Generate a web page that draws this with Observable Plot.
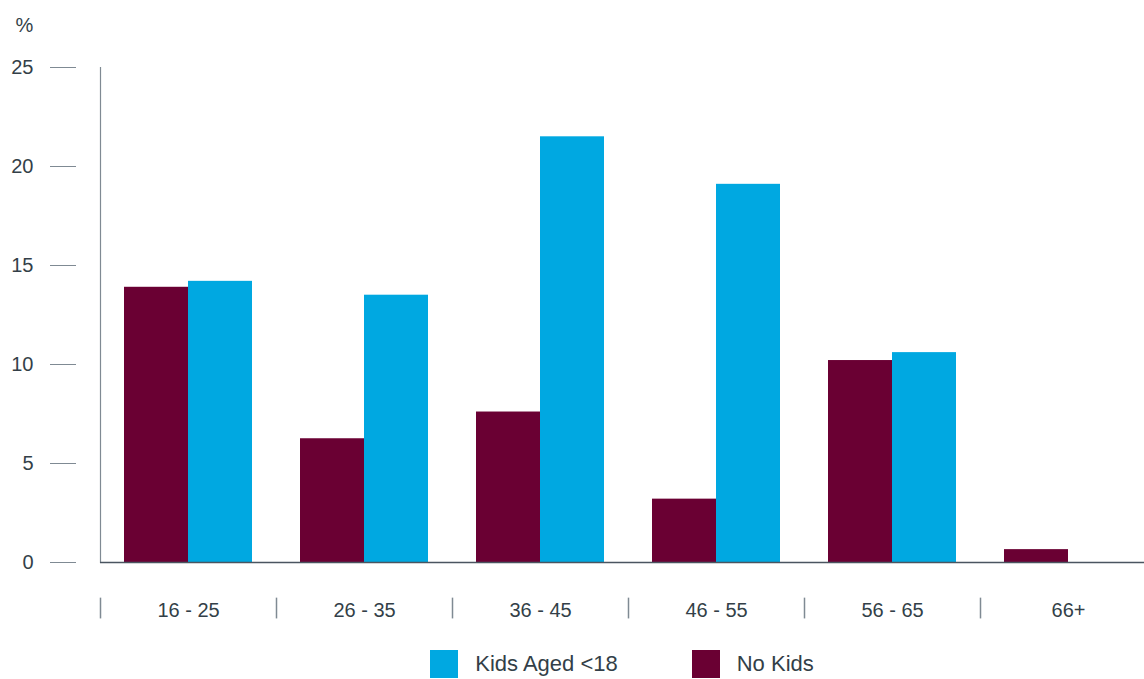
<!DOCTYPE html>
<html>
<head>
<meta charset="utf-8">
<script src="https://cdn.jsdelivr.net/npm/d3@7"></script>
<script src="https://cdn.jsdelivr.net/npm/@observablehq/plot@0.6"></script>
<style>
  html, body { margin: 0; padding: 0; background: #fff; overflow: hidden; }
  body { width: 1144px; height: 679px; font-family: "Liberation Sans", Arial, sans-serif; color: #333f48; }
  #legend { display: flex; justify-content: center; align-items: center; padding-left: 100px; margin-top: 5px; font-size: 22px; line-height: 26px; }
  .item { display: flex; align-items: center; }
  .sw { width: 28px; height: 28px; margin-right: 17px; }
  .gap { width: 74px; }
</style>
</head>
<body>
<div id="chart"></div>
<div id="legend"></div>
<script>
const ageGroups = ["16 - 25", "26 - 35", "36 - 45", "46 - 55", "56 - 65", "66+"];
const kidsAged18 = [14.2, 13.5, 21.5, 19.1, 10.6, 0];
const noKids = [13.9, 6.25, 7.6, 3.2, 10.2, 0.65];
const yTicks = [0, 5, 10, 15, 20, 25];
const seriesNames = ["Kids Aged <18", "No Kids"];
const seriesColors = ["#00a8e1", "#6a0033"];

const kidsRows = ageGroups.map((g, i) => ({group: g, value: kidsAged18[i]}));
const noKidsRows = ageGroups.map((g, i) => ({group: g, value: noKids[i]}));

const textColor = "#333f48";
const tickColor = "#7f8a93";

const chart = Plot.plot({
  width: 1144,
  height: 645,
  marginTop: 67,
  marginBottom: 83,
  marginLeft: 100,
  marginRight: 0,
  style: {fontFamily: "'Liberation Sans', Arial, sans-serif", fontSize: "20px", color: textColor, background: "#fff", overflow: "visible"},
  x: {type: "band", domain: ageGroups, range: [100, 1156], padding: 0},
  y: {domain: [0, 25]},
  marks: [
    Plot.barY(noKidsRows, {x: "group", y: "value", fill: seriesColors[1], insetLeft: 24, insetRight: 88}),
    Plot.barY(kidsRows, {x: "group", y: "value", fill: seriesColors[0], insetLeft: 88, insetRight: 24}),
    Plot.frame({anchor: "left", stroke: tickColor, strokeWidth: 1.2}),
    Plot.ruleY([0], {stroke: "#4a5560", strokeWidth: 1.5}),
    Plot.axisY({ticks: yTicks, tickSize: 26, dx: -24, tickFormat: () => "", stroke: tickColor, label: null}),
    Plot.axisY({ticks: yTicks, tickSize: 0, tickPadding: 67, fill: textColor, fontSize: 20, label: null}),
    Plot.axisX({tickSize: 0, tickPadding: 40, fill: textColor, fontSize: 20, label: null}),
    Plot.ruleX(ageGroups, {x: d => d, dx: -88, y1: -1.8, y2: -2.85, stroke: tickColor, strokeWidth: 1.5}),
    Plot.text(["%"], {frameAnchor: "top-left", dx: -85, dy: -42, textAnchor: "start", lineAnchor: "middle", fontSize: 20, fill: textColor})
  ]
});
document.getElementById("chart").appendChild(chart);

const legend = document.getElementById("legend");
seriesNames.forEach((name, i) => {
  if (i > 0) { const g = document.createElement("div"); g.className = "gap"; legend.appendChild(g); }
  const item = document.createElement("div");
  item.className = "item";
  const sw = document.createElement("div");
  sw.className = "sw";
  sw.style.background = seriesColors[i];
  const t = document.createElement("span");
  t.textContent = name;
  item.appendChild(sw);
  item.appendChild(t);
  legend.appendChild(item);
});
</script>
</body>
</html>
